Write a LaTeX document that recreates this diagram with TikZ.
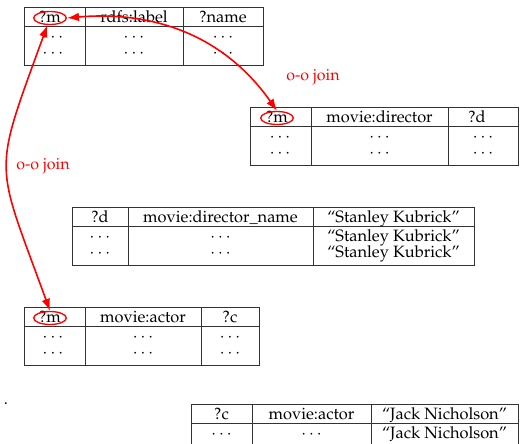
\documentclass[tikz,border=0pt]{standalone}
\usepackage[T1]{fontenc}
\usepackage{mathpazo}
\usepackage{tikz}
\usetikzlibrary{arrows.meta,shapes.geometric}

\begin{document}
\begin{tikzpicture}[x=0.75pt,y=0.75pt,
  cell/.style={font=\fontsize{12.3}{14}\selectfont,inner sep=0pt,anchor=base,text height=7.5pt,text depth=1.5pt},
  grid/.style={draw=black!80,line width=0.7pt},
  ring/.style={ellipse,draw=red,line width=1pt,minimum width=24.5pt,minimum height=9.75pt,inner sep=0pt},
  joinedge/.style={draw=red,line width=1.2pt,{Latex[length=9pt,width=6.5pt]}-{Latex[length=9pt,width=6.5pt]}},
  joinlabel/.style={font=\fontsize{12}{14}\selectfont,text=red,inner sep=0pt}
]
  \useasboundingbox (0,0) rectangle (520,-443);
  \clip (0,0) rectangle (520,-443);

  % ?m rdfs:label ?name
  \draw[grid] (24,-7) rectangle (263,-65);
  \draw[grid] (24,-26) -- (263,-26) (85,-7) -- (85,-65) (183,-7) -- (183,-65);
  \node[cell] (t1h1) at (50,-22) {?m};
  \node[cell] (t1h2) at (134,-22) {rdfs:label};
  \node[cell] (t1h3) at (223,-22) {?name};
  \foreach \y [count=\r] in {-41,-57} {
    \node[cell] (t1r\r a) at (53,\y) {$\cdots$};
    \node[cell] (t1r\r b) at (134,\y) {$\cdots$};
    \node[cell] (t1r\r c) at (223,\y) {$\cdots$};
  }
  \node[ring] (m1) at (50,-18) {};

  % ?m movie:director ?d
  \draw[grid] (250,-107) rectangle (518,-165);
  \draw[grid] (250,-126) -- (518,-126) (311,-107) -- (311,-165) (448,-107) -- (448,-165);
  \node[cell] (t2h1) at (277,-122) {?m};
  \node[cell] (t2h2) at (379.5,-122) {movie:director};
  \node[cell] (t2h3) at (477,-122) {?d};
  \foreach \y [count=\r] in {-141,-157} {
    \node[cell] (t2r\r a) at (280,\y) {$\cdots$};
    \node[cell] (t2r\r b) at (379.5,\y) {$\cdots$};
    \node[cell] (t2r\r c) at (483,\y) {$\cdots$};
  }
  \node[ring] (m2) at (277,-118) {};

  % ?d movie:director_name "Stanley Kubrick"
  \draw[grid] (72,-207) rectangle (474,-265);
  \draw[grid] (72,-226) -- (474,-226) (128,-207) -- (128,-265) (313,-207) -- (313,-265);
  \node[cell] (t3h1) at (100,-222) {?d};
  \node[cell] (t3h2) at (220.5,-222) {movie:director\_name};
  \node[cell] (t3h3) at (393.5,-222) {``Stanley Kubrick''};
  \foreach \y [count=\r] in {-241,-257} {
    \node[cell] (t3r\r a) at (100,\y) {$\cdots$};
    \node[cell] (t3r\r b) at (220.5,\y) {$\cdots$};
    \node[cell] (t3r\r c) at (393.5,\y) {``Stanley Kubrick''};
  }

  % ?m movie:actor ?c
  \draw[grid] (24,-307) rectangle (259,-365);
  \draw[grid] (24,-326) -- (259,-326) (85,-307) -- (85,-365) (201,-307) -- (201,-365);
  \node[cell] (t4h1) at (50,-322) {?m};
  \node[cell] (t4h2) at (143,-322) {movie:actor};
  \node[cell] (t4h3) at (230,-322) {?c};
  \foreach \y [count=\r] in {-341,-357} {
    \node[cell] (t4r\r a) at (53,\y) {$\cdots$};
    \node[cell] (t4r\r b) at (143,\y) {$\cdots$};
    \node[cell] (t4r\r c) at (230,\y) {$\cdots$};
  }
  \node[ring] (m3) at (50,-318) {};

  % ?c movie:actor "Jack Nicholson"
  \draw[grid] (191,-404) rectangle (518,-462);
  \draw[grid] (191,-423) -- (518,-423) (252,-404) -- (252,-462) (371,-404) -- (371,-462);
  \node[cell] (t5h1) at (221.5,-419) {?c};
  \node[cell] (t5h2) at (311.5,-419) {movie:actor};
  \node[cell] (t5h3) at (444.5,-419) {``Jack Nicholson''};
  \node[cell] (t5r1a) at (221.5,-438) {$\cdots$};
  \node[cell] (t5r1b) at (311.5,-438) {$\cdots$};
  \node[cell] (t5r1c) at (444.5,-438) {``Jack Nicholson''};
  \node[cell] (mark) at (6,-404) {.};

  % joins on ?m
  \draw[joinedge] (m1.east) to[out=5,in=125] (m2.north);
  \draw[joinedge] (m1.250) to[out=250,in=110,looseness=1.45] (m3.north);
  \node[joinlabel] (j1) at (313,-77) {o-o join};
  \node[joinlabel] (j2) at (43,-166) {o-o join};
\end{tikzpicture}
\end{document}
